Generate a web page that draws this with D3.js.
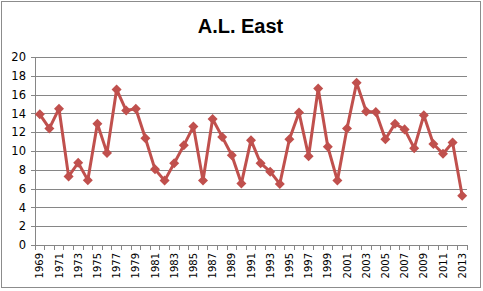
<!DOCTYPE html>
<html>
<head>
<meta charset="utf-8">
<script src="https://cdn.jsdelivr.net/npm/d3@7"></script>
<style>
  body { margin: 0; background: #fff; }
  svg { display: block; }
</style>
</head>
<body>
<script>
// AL East values by year
const years = d3.range(1969, 2014);
const values = [13.9, 12.4, 14.5, 7.3, 8.75, 6.9, 12.9, 9.8, 16.55, 14.3,
                14.5, 11.35, 8.05, 6.85, 8.7, 10.6, 12.6, 6.85, 13.4, 11.5,
                9.55, 6.55, 11.15, 8.7, 7.8, 6.5, 11.25, 14.1, 9.45, 16.65,
                10.45, 6.85, 12.4, 17.25, 14.2, 14.15, 11.25, 12.9, 12.3, 10.3,
                13.8, 10.75, 9.7, 10.9, 5.25];
const yTicks = d3.range(0, 21, 2);
const title = "A.L. East";

const width = 483;
const height = 291;
const margin = {top: 57, right: 16, bottom: 46, left: 35};

const svg = d3.select("body").append("svg")
    .attr("width", width)
    .attr("height", height);

// chart border
svg.append("rect")
    .attr("x", 1.5).attr("y", 1.5)
    .attr("width", width - 4).attr("height", height - 5)
    .attr("fill", "#fff")
    .attr("stroke", "#8c8c8c");

const x = d3.scaleBand()
    .domain(years)
    .range([margin.left, width - margin.right]);

const y = d3.scaleLinear()
    .domain([0, 20])
    .range([height - margin.bottom, margin.top]);

// gridlines + y labels
svg.append("g")
    .attr("transform", "translate(" + margin.left + ",0)")
    .call(d3.axisLeft(y).tickValues(yTicks).tickFormat(d3.format("d"))
        .tickSizeInner(-(width - margin.left - margin.right)).tickSizeOuter(0).tickPadding(9))
    .call(g => g.select(".domain").remove())
    .call(g => g.selectAll(".tick line").attr("stroke", "#868686").attr("x1", -4).attr("shape-rendering", "crispEdges"))
    .call(g => g.selectAll(".tick text")
        .attr("font-family", "DejaVu Sans").attr("font-size", 11.5).attr("fill", "#000"));

// y axis line
svg.append("line")
    .attr("x1", margin.left).attr("x2", margin.left)
    .attr("y1", y(20)).attr("y2", y(0))
    .attr("stroke", "#868686").attr("shape-rendering", "crispEdges");

// x axis line and ticks at category boundaries
const xa = svg.append("g");
xa.append("line")
    .attr("x1", margin.left).attr("x2", width - margin.right)
    .attr("y1", y(0)).attr("y2", y(0))
    .attr("stroke", "#868686").attr("shape-rendering", "crispEdges");
xa.selectAll(".xt")
    .data(years.concat([2014]))
    .join("line")
    .attr("class", "xt")
    .attr("x1", d => d === 2014 ? x.range()[1] : x(d))
    .attr("x2", d => d === 2014 ? x.range()[1] : x(d))
    .attr("y1", y(0)).attr("y2", y(0) + 5)
    .attr("stroke", "#868686").attr("shape-rendering", "crispEdges");

xa.selectAll(".xl")
    .data(years.filter((d, i) => i % 2 === 0))
    .join("text")
    .attr("class", "xl")
    .attr("transform", d => "translate(" + (x(d) + x.bandwidth() / 2 + 3.5) + "," + (y(0) + 8) + ") rotate(-90)")
    .attr("text-anchor", "end")
    .attr("font-family", "DejaVu Sans")
    .attr("font-size", 10)
    .attr("fill", "#000")
    .text(d => d);

// line
const line = d3.line()
    .x((d, i) => x(years[i]) + x.bandwidth() / 2)
    .y(d => y(d));

svg.append("path")
    .datum(values)
    .attr("d", line)
    .attr("fill", "none")
    .attr("stroke", "#C0504D")
    .attr("stroke-width", 3)
    .attr("stroke-linejoin", "round");

svg.selectAll(".pt")
    .data(values)
    .join("path")
    .attr("class", "pt")
    .attr("transform", (d, i) => "translate(" + (x(years[i]) + x.bandwidth() / 2) + "," + y(d) + ")")
    .attr("d", d3.symbol(d3.symbolDiamond2, 64))
    .attr("fill", "#C0504D");

svg.append("text")
    .attr("x", 240.5)
    .attr("y", 33)
    .attr("text-anchor", "middle")
    .attr("font-family", "Liberation Sans")
    .attr("font-weight", "bold")
    .attr("font-size", 20)
    .attr("fill", "#000")
    .text(title);
</script>
</body>
</html>
